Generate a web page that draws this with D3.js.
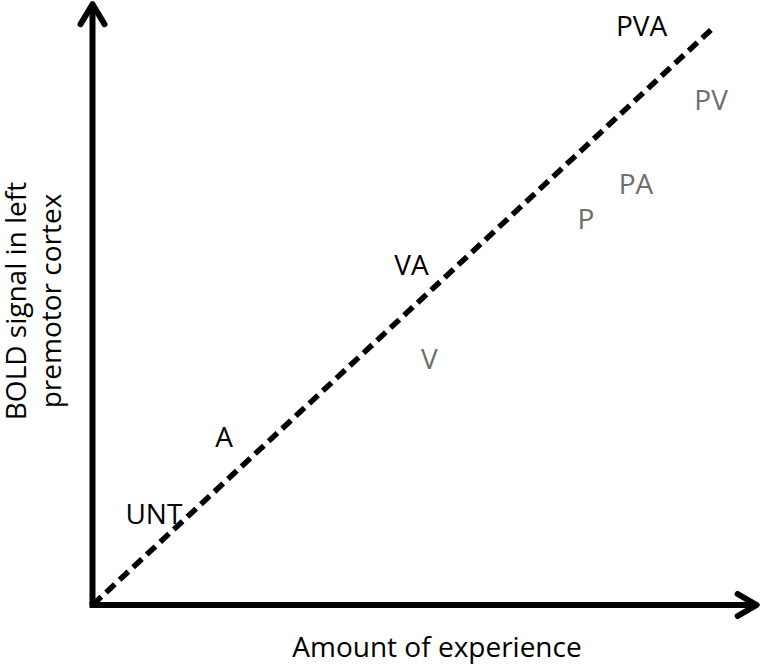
<!DOCTYPE html>
<html>
<head>
<meta charset="utf-8">
<script src="https://cdn.jsdelivr.net/npm/d3@7"></script>
<style>
  html, body { margin: 0; padding: 0; background: #fff; }
  svg { display: block; }
  text { font-family: "Open Sans", "Noto Sans", sans-serif; }
</style>
</head>
<body>
<svg id="chart" width="764" height="666"></svg>
<script>
// Data (experience, BOLD) in arbitrary units; trend line from 0 to 10
const categories = ["UNT", "A", "VA", "V", "P", "PA", "PV", "PVA"];
const experience = [0.99, 2.12, 5.14, 5.43, 7.95, 8.76, 9.97, 8.85];
const bold       = [1.58, 2.90, 5.89, 4.26, 6.69, 7.30, 8.75, 10.03];
const isGrey     = [false, false, false, true, true, true, true, false];
const trendX = [0, 10];
const trendY = [0, 10];
const xAxisMax = 10.72;
const yAxisMax = 10.43;
const xTitle = "Amount of experience";
const yTitleLines = ["BOLD signal in left", "premotor cortex"];

const svg = d3.select("#chart");
const x = d3.scaleLinear().domain([0, 10]).range([92.5, 713]);
const y = d3.scaleLinear().domain([0, 10]).range([605, 28]);

// Axes
const axisG = svg.append("g").attr("stroke", "#000").attr("stroke-width", 6)
  .attr("fill", "none").attr("stroke-linecap", "round").attr("stroke-linejoin", "round");
const x0 = x(0), y0 = y(0), xEnd = x(xAxisMax), yEnd = y(yAxisMax);
axisG.append("line").attr("x1", x0).attr("y1", y0).attr("x2", x0).attr("y2", yEnd + 2).attr("stroke-linecap", "butt");
axisG.append("line").attr("x1", x0 - 3).attr("y1", y0).attr("x2", xEnd - 2).attr("y2", y0).attr("stroke-linecap", "butt");
axisG.append("path").attr("d", `M${x0 - 12},${yEnd + 21} L${x0},${yEnd + 1} L${x0 + 12},${yEnd + 21}`);
axisG.append("path").attr("d", `M${xEnd - 20},${y0 - 11} L${xEnd - 1},${y0} L${xEnd - 20},${y0 + 11}`);

// Trend line
svg.append("line")
  .attr("x1", x(trendX[0])).attr("y1", y(trendY[0]))
  .attr("x2", x(trendX[1])).attr("y2", y(trendY[1]))
  .attr("stroke", "#000").attr("stroke-width", 5.5)
  .attr("stroke-dasharray", "12,6.5");

// Labels
const pts = categories.map((c, i) => ({ c, ex: experience[i], b: bold[i], g: isGrey[i] }));
svg.append("g").selectAll("text").data(pts).join("text")
  .attr("x", d => x(d.ex)).attr("y", d => y(d.b))
  .attr("dy", "0.35em")
  .attr("text-anchor", "middle")
  .attr("font-size", 28)
  .attr("fill", d => d.g ? "#6e6e6e" : "#000")
  .text(d => d.c);

// Axis titles
svg.append("text").attr("x", 437).attr("y", 657).attr("text-anchor", "middle")
  .attr("font-size", 28).attr("fill", "#000").text(xTitle);

const yt = svg.append("text").attr("transform", "translate(0,301) rotate(-90)")
  .attr("text-anchor", "middle").attr("font-size", 28).attr("fill", "#000");
yTitleLines.forEach((t, i) => {
  yt.append("tspan").attr("x", 0).attr("y", i === 0 ? 26 : 61).text(t);
});
</script>
</body>
</html>
